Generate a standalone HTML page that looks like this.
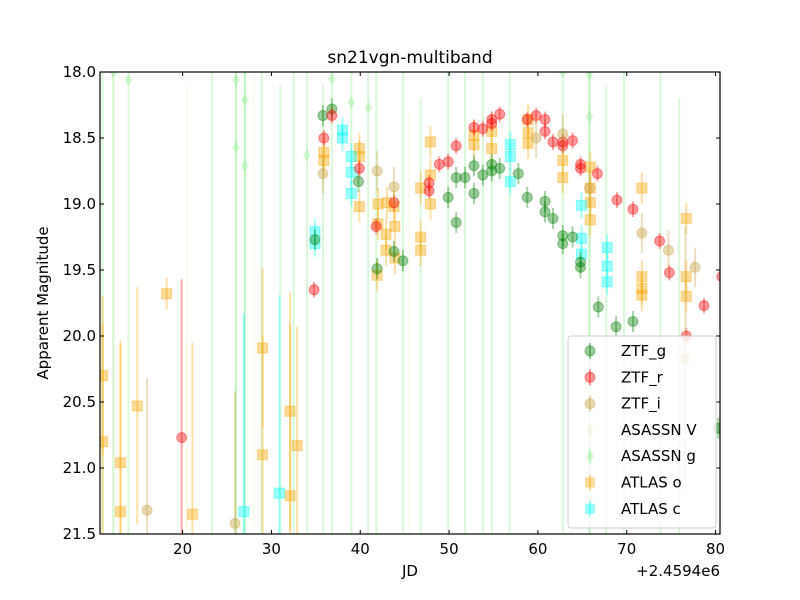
<!DOCTYPE html>
<html><head><meta charset="utf-8"><style>
html,body{margin:0;padding:0;background:#fff;overflow:hidden;width:800px;height:600px;}
svg{display:block;}
svg text{font-family:"DejaVu Sans","Liberation Sans",sans-serif;}
</style></head><body>
<svg id="c" width="800" height="600" xmlns="http://www.w3.org/2000/svg"></svg>
<script>
const xTicks=[20,30,40,50,60,70,80];
const yTicks=[18.0,18.5,19.0,19.5,20.0,20.5,21.0,21.5];
const seriesNames=["ZTF_g","ZTF_r","ZTF_i","ASASSN V","ASASSN g","ATLAS o","ATLAS c"];
const gX=[35.8,36.8,39.8,41.9,43.8,44.8,49.9,50.8,50.8,51.8,52.8,52.8,53.8,54.8,54.8,55.7,57.8,58.8,60.8,60.8,61.7,62.8,62.8,63.9,64.8,64.8,66.8,68.8,70.7,80.3,34.9];
const gY=[18.33,18.28,18.83,19.49,19.36,19.43,18.95,18.80,19.14,18.80,18.71,18.92,18.78,18.70,18.75,18.73,18.77,18.95,18.98,19.06,19.11,19.24,19.30,19.25,19.44,19.48,19.78,19.93,19.89,20.70,19.27];
const rX=[36.8,35.9,39.9,43.8,41.8,34.8,19.9,47.75,47.75,48.9,49.9,50.8,52.8,53.8,54.8,54.8,55.7,58.8,59.8,60.8,60.8,61.7,62.8,62.8,63.9,64.8,64.8,66.7,68.9,70.7,73.7,74.8,78.7,80.7,76.7];
const rY=[18.33,18.5,18.73,18.99,19.17,19.65,20.77,18.84,18.9,18.70,18.68,18.56,18.42,18.43,18.36,18.39,18.32,18.36,18.33,18.36,18.45,18.53,18.53,18.56,18.52,18.70,18.73,18.77,18.97,19.04,19.28,19.52,19.77,19.55,20.0];
const iX=[35.8,41.9,43.8,59.8,62.8,65.8,71.7,74.7,77.7,25.9,16.0,76.6];
const iY=[18.77,18.75,18.87,18.50,18.47,18.88,19.22,19.35,19.48,21.42,21.32,20.17];
const vX=[12.2,20.5,28.0,45.5];
const vY=[22.5,22.6,22.4,22.8];
const agX=[12.2,13.9,26.0,27.0,26.0,27.0,34.0,36.8,39.0,40.9,62.8,65.8,65.8,23.3,11.0,35.8,41.8,44.8,46.8,49.9,51.8,53.8,54.8,56.8,67.7,69.7,73.8,75.9,28.9,31.0,32.5];
const agY=[18.0,18.06,18.06,18.21,18.57,18.71,18.63,18.05,18.23,18.27,18.0,18.02,18.34,22.5,22.6,22.7,22.4,22.6,22.8,22.5,22.6,22.4,22.9,22.6,22.7,22.5,22.6,22.8,22.6,22.7,22.6];
const oX=[18.2,11.0,11.0,13.0,13.0,14.9,21.1,29.0,29.0,32.1,32.1,32.9,71.7,71.7,71.7,71.7,76.7,76.7,76.7,35.9,35.9,39.9,39.9,39.9,42.0,43.0,43.8,42.0,42.9,42.9,41.9,43.9,43.9,47.9,47.9,47.9,46.8,46.8,46.8,52.8,52.8,54.8,54.8,58.9,58.9,58.9,62.8,62.8,65.9,65.9,65.9,65.9];
const oY=[19.68,20.3,20.8,20.96,21.33,20.53,21.35,20.09,20.90,20.57,21.21,20.83,18.88,19.55,19.64,19.69,19.11,19.55,19.70,18.61,18.67,18.58,18.64,19.02,19.0,18.99,19.02,19.15,19.23,19.35,19.54,19.17,19.41,18.53,18.78,19.0,18.88,19.25,19.35,18.48,18.55,18.45,18.58,18.36,18.46,18.54,18.67,18.80,18.72,18.88,18.99,19.12];
const cX=[34.9,34.9,38.0,38.0,39.0,39.0,39.0,56.9,56.9,56.9,64.9,64.9,64.9,67.8,67.8,67.8,26.9,30.9];
const cY=[19.21,19.3,18.44,18.50,18.64,18.76,18.92,18.55,18.64,18.83,19.01,19.26,19.38,19.33,19.47,19.59,21.33,21.19];

const L=100,R=720,T=72,B=534,XMIN=10.7,XMAX=80.5,YMIN=18,YMAX=21.5;
const sx=v=>L+(v-XMIN)/(XMAX-XMIN)*(R-L);
const sy=v=>T+(v-YMIN)/(YMAX-YMIN)*(B-T);
const NS="http://www.w3.org/2000/svg";
const svg=document.getElementById('c');
function mk(tag,attrs,parent){const e=document.createElementNS(NS,tag);for(const k in attrs)e.setAttribute(k,attrs[k]);(parent||svg).appendChild(e);return e;}
const defs=mk('defs',{});const cp=mk('clipPath',{id:'clip'},defs);mk('rect',{x:L,y:T,width:R-L,height:B-T},cp);
const plot=mk('g',{'clip-path':'url(#clip)'});


function drawSeries(xs,ys,color,shape,name,errFn){
  const g=mk('g',{},plot);
  
  
  for(let i=0;i<xs.length;i++){
    const x=sx(xs[i]),y=sy(ys[i]);const e=errFn(ys[i],xs[i]);
    const y1=Math.max(T,sy(ys[i]-e)),y2=Math.min(B,sy(ys[i]+e));
    const ln=mk('line',{x1:x,x2:x,y1:y1,y2:y2,stroke:color,'stroke-width':2,'stroke-opacity':0.35},g);
    
    
    let m;
    if(shape==='c')m=mk('circle',{cx:x,cy:y,r:5,fill:color,'fill-opacity':0.4,stroke:color,'stroke-opacity':0.4},g);
    else if(shape==='s')m=mk('rect',{x:x-5,y:y-5,width:10,height:10,fill:color,'fill-opacity':0.4,stroke:color,'stroke-opacity':0.4},g);
    else m=mk('path',{d:`M${x},${y-6}L${x+4},${y}L${x},${y+6}L${x-4},${y}Z`,fill:color,'fill-opacity':0.4},g);
    
    
  }
}
const bigErr=()=>4.5;
drawSeries(vX,vY,'#f0f0d0','d','asassn-v',bigErr);
drawSeries(agX,agY,'#90ee90','d','asassn-g',(y)=>y>21.5?4.6:3.8);
drawSeries(oX,oY,'#ffa500','s','atlas-o',(y)=>y>21?1.3:y>20.4?0.9:y>19.9?0.6:0.12);
drawSeries(cX,cY,'#00ffff','s','atlas-c',(y)=>y>21?1.5:0.1);
drawSeries(gX,gY,'#008000','c','ztf-g',(y)=>0.08);
drawSeries(rX,rY,'#ff0000','c','ztf-r',(y)=>y>20.5?1.2:0.06);
drawSeries(iX,iY,'#c8a040','c','ztf-i',(y)=>y>20?1.0:0.15);
const fr=mk('rect',{x:L,y:T,width:R-L,height:B-T,fill:'none',stroke:'#000','stroke-width':1.2});


xTicks.forEach(v=>{const x=sx(v);
  mk('line',{x1:x,x2:x,y1:B,y2:B-4,stroke:'#000'});mk('line',{x1:x,x2:x,y1:T,y2:T+4,stroke:'#000'});
  const t=mk('text',{x:x,y:B+20,'text-anchor':'middle','font-size':15});t.textContent=v;
  
  });
yTicks.forEach(v=>{const y=sy(v);
  mk('line',{x1:L,x2:L+4,y1:y,y2:y,stroke:'#000'});mk('line',{x1:R,x2:R-4,y1:y,y2:y,stroke:'#000'});
  const t=mk('text',{x:L-4,y:y+5,'text-anchor':'end','font-size':15});t.textContent=v.toFixed(1);
  
  });
let t=mk('text',{x:410,y:63,'text-anchor':'middle','font-size':17});t.textContent='sn21vgn-multiband';

t=mk('text',{x:410,y:576,'text-anchor':'middle','font-size':15});t.textContent='JD';

t=mk('text',{x:720,y:576,'text-anchor':'end','font-size':15});t.textContent='+2.4594e6';

t=mk('text',{x:48,y:303,'text-anchor':'middle','font-size':15,transform:'rotate(-90 48 303)'});t.textContent='Apparent Magnitude';

const lg=mk('g',{});


mk('rect',{x:568,y:336,width:148,height:192,rx:3,fill:'#fff','fill-opacity':0.8,stroke:'#ccc'},lg);
const lc=['#008000','#ff0000','#c8a040','#f0f0d0','#90ee90','#ffa500','#00ffff'];
const ls=['c','c','c','d','d','s','s'];
seriesNames.forEach((n,i)=>{const y=351+i*26.3,x=590;
  const e=mk('g',{},lg);
  
  
  mk('line',{x1:x,x2:x,y1:y-8,y2:y+8,stroke:lc[i],'stroke-width':2,'stroke-opacity':0.4},e);
  if(ls[i]==='c')mk('circle',{cx:x,cy:y,r:5,fill:lc[i],'fill-opacity':0.4,stroke:lc[i],'stroke-opacity':0.4},e);
  else if(ls[i]==='s')mk('rect',{x:x-5,y:y-5,width:10,height:10,fill:lc[i],'fill-opacity':0.4},e);
  else mk('path',{d:`M${x},${y-6}L${x+4},${y}L${x},${y+6}L${x-4},${y}Z`,fill:lc[i],'fill-opacity':0.4},e);
  const tt=mk('text',{x:621,y:y+5,'font-size':15},e);tt.textContent=n;});
</script>
</body></html>
